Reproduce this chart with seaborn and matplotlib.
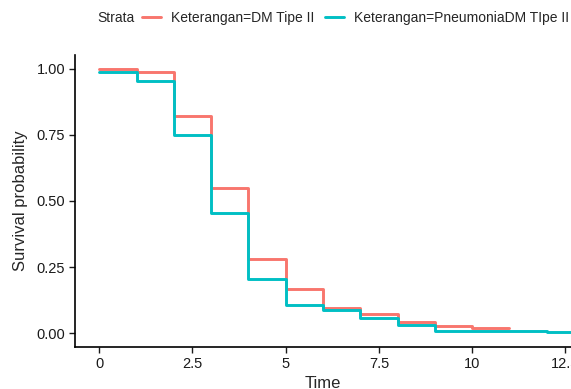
import pandas as pd
import matplotlib
matplotlib.use("Agg")
import matplotlib.pyplot as plt
import seaborn as sns

# Kaplan-Meier step values
times_dm = [0, 1, 2, 3, 4, 5, 6, 7, 8, 9, 10, 11]
surv_dm = [1.00, 0.99, 0.823, 0.549, 0.282, 0.165, 0.095, 0.071, 0.040, 0.025, 0.018, 0.018]

times_pn = [0, 1, 2, 3, 4, 5, 6, 7, 8, 9, 10, 11, 12, 13]
surv_pn = [0.99, 0.954, 0.750, 0.454, 0.205, 0.105, 0.087, 0.057, 0.031, 0.009, 0.009, 0.009, 0.005, 0.005]

strata = ["Keterangan=DM Tipe II", "Keterangan=PneumoniaDM TIpe II"]
colors = ["#F8766D", "#00BFC4"]

x_ticks = [0, 2.5, 5, 7.5, 10, 12.5]
x_tick_labels = ["0", "2.5", "5", "7.5", "10", "12.5"]
y_ticks = [0, 0.25, 0.5, 0.75, 1.0]
y_tick_labels = ["0.00", "0.25", "0.50", "0.75", "1.00"]

df = pd.concat([
    pd.DataFrame({"Time": times_dm, "surv": surv_dm, "Strata": strata[0]}),
    pd.DataFrame({"Time": times_pn, "surv": surv_pn, "Strata": strata[1]}),
])

sns.set_style("white")
plt.rcParams["font.family"] = ["Liberation Sans", "DejaVu Sans"]

fig = plt.figure(figsize=(5.71, 3.89), dpi=100)
ax = fig.add_axes([75 / 571, 1 - 347 / 389, 1 - 75 / 571, (347 - 55) / 389])

sns.lineplot(data=df, x="Time", y="surv", hue="Strata", palette=colors,
             drawstyle="steps-post", linewidth=2.1, ax=ax, legend=False,
             estimator=None, sort=True)

ax.set_xlim(-0.65, 12.65)
ax.set_ylim(-0.053, 1.053)
ax.set_xticks(x_ticks)
ax.set_xticklabels(x_tick_labels)
ax.set_yticks(y_ticks)
ax.set_yticklabels(y_tick_labels)
ax.tick_params(axis="both", labelsize=10.5, colors="#1a1a1a", length=4,
               width=1, direction="out", left=True, bottom=True, pad=3)
for s in ["top", "right"]:
    ax.spines[s].set_visible(False)
for s in ["left", "bottom"]:
    ax.spines[s].set_color("black")
    ax.spines[s].set_linewidth(1.2)

ax.set_xlabel("Time", fontsize=12, labelpad=4)
ax.set_ylabel("Survival probability", fontsize=12, labelpad=6)

# legend on top, ggplot style
fig.text(97 / 571, 1 - 18 / 389, "Strata", fontsize=10, va="center", ha="left")
handles = [plt.Line2D([], [], color=c, lw=2.1) for c in colors]
fig.legend(handles, strata, loc="center left", bbox_to_anchor=(142 / 571, 1 - 18 / 389),
           ncol=2, frameon=False, fontsize=10, handlelength=1.4,
           handletextpad=0.7, columnspacing=0.75, borderaxespad=0, borderpad=0)

fig.savefig("out.png", dpi=100)
